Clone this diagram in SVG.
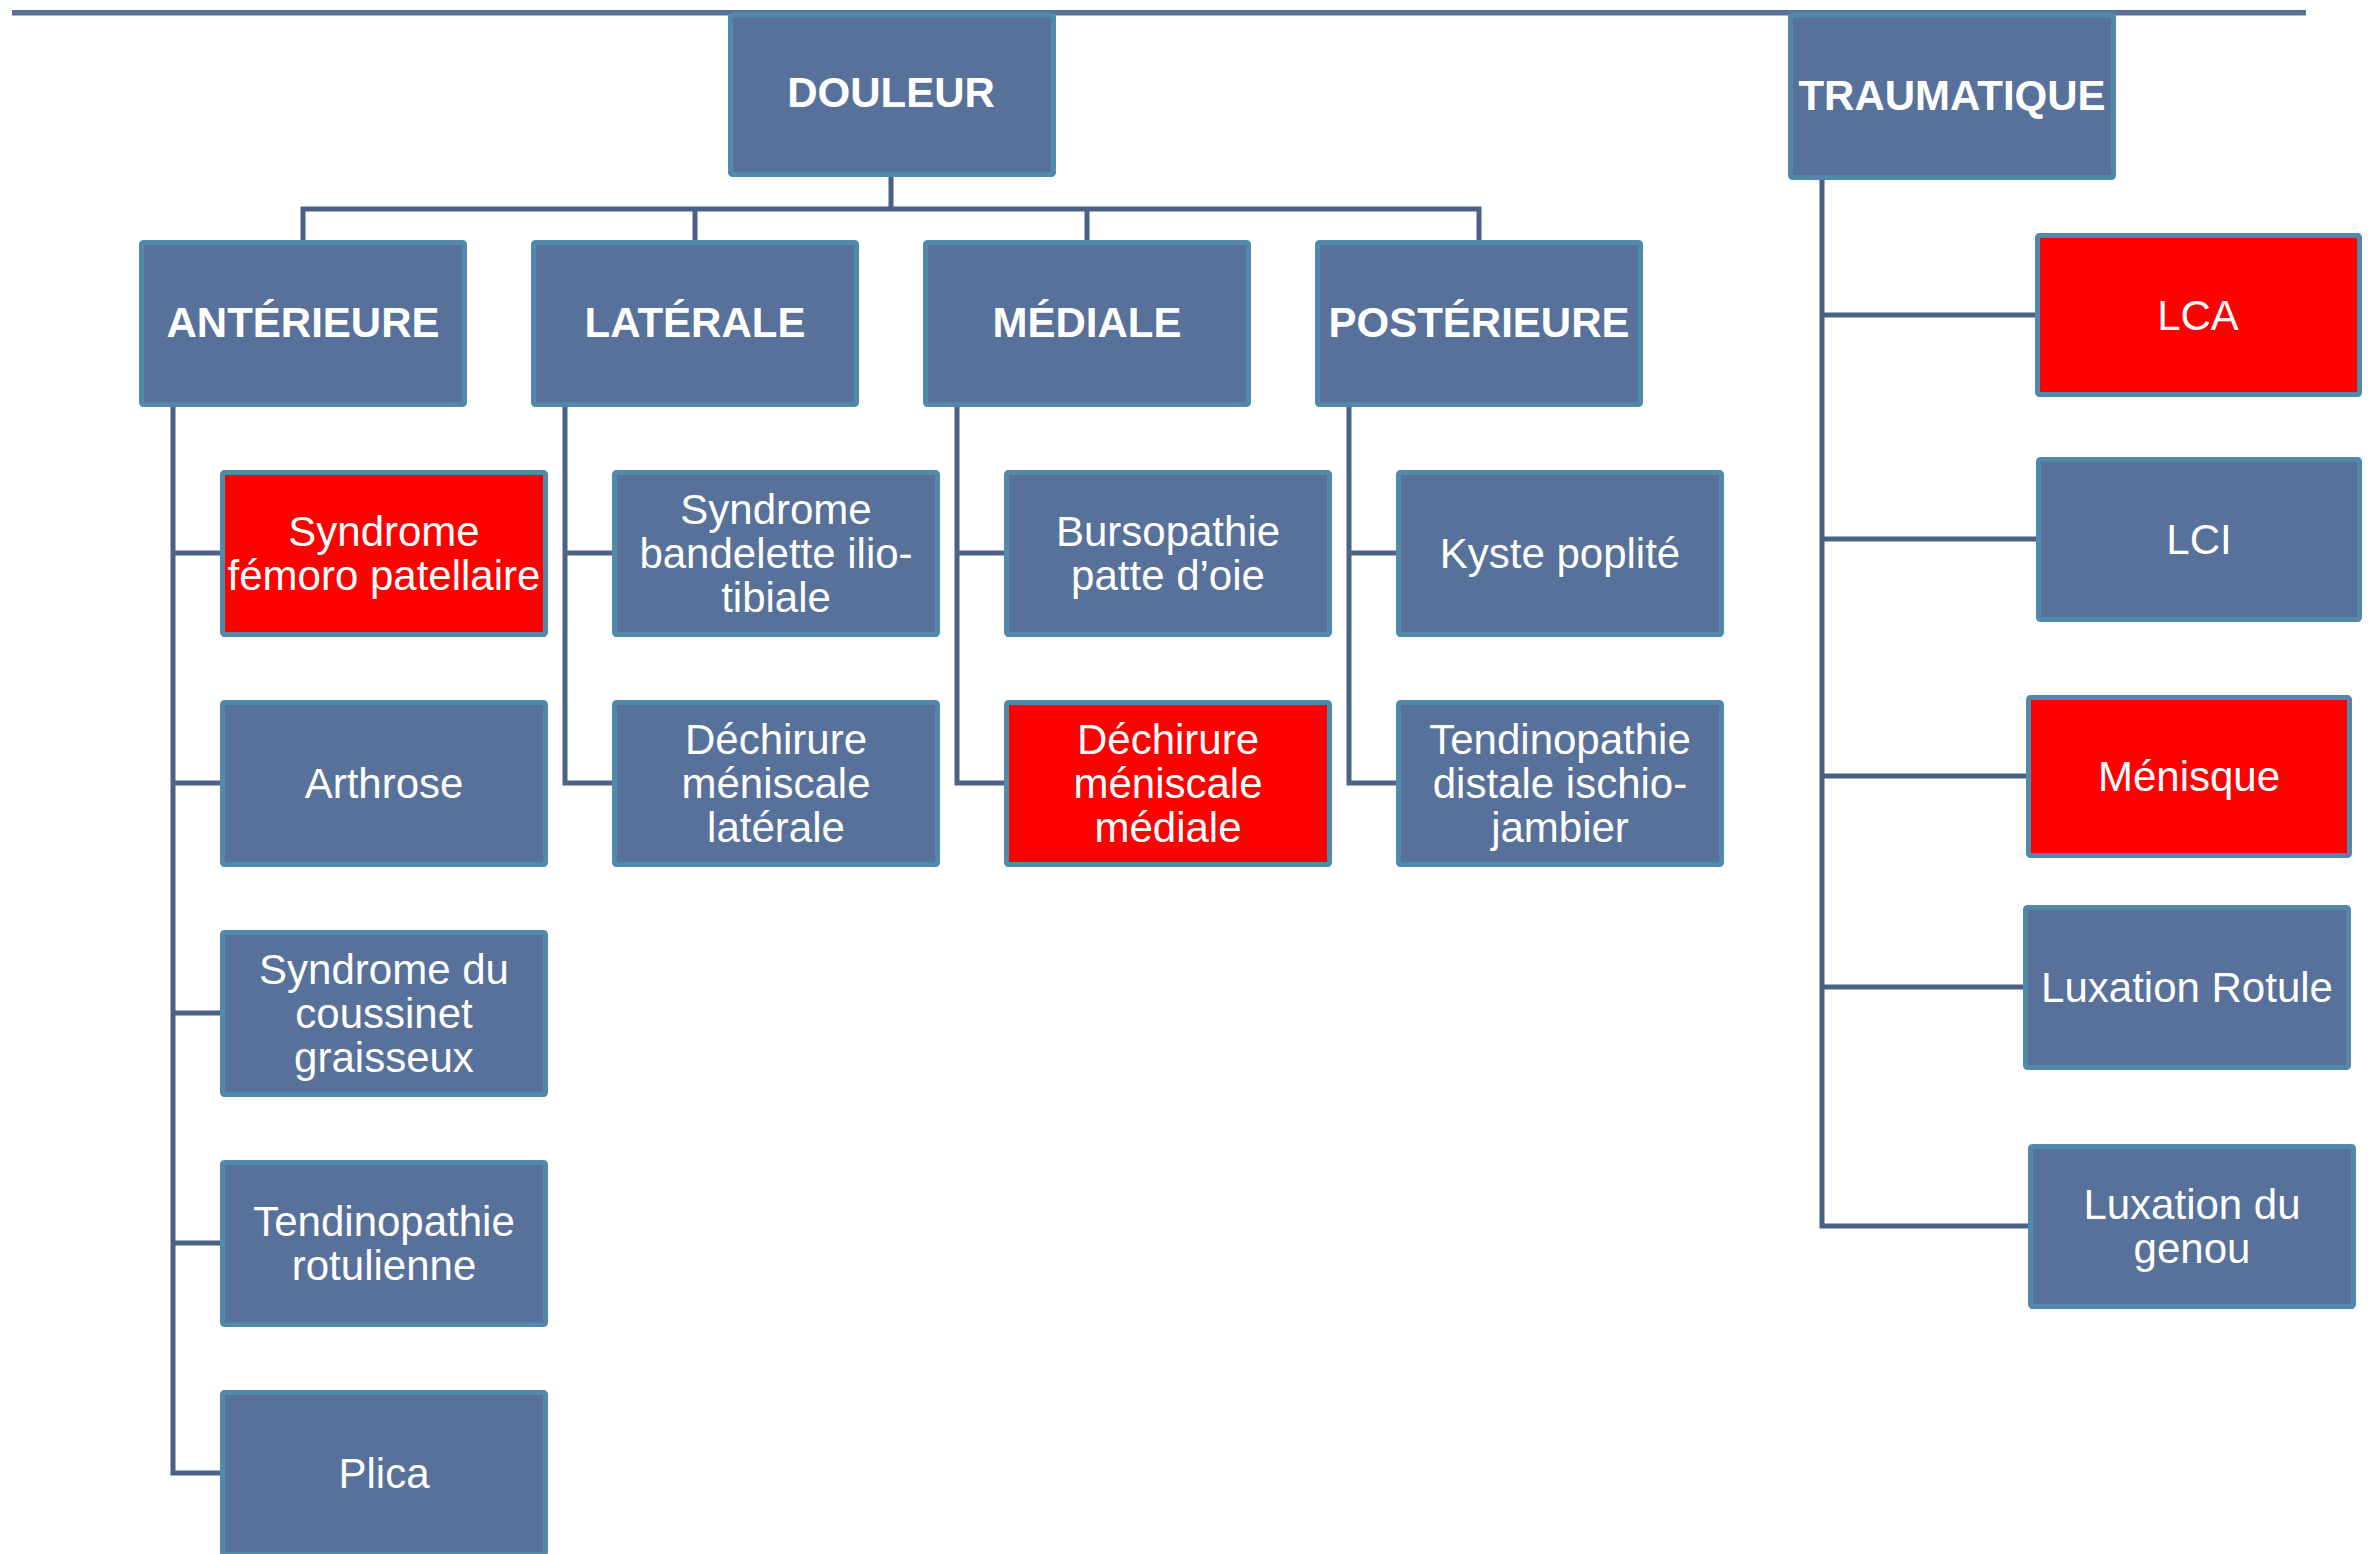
<svg xmlns="http://www.w3.org/2000/svg" width="2374" height="1554" viewBox="0 0 2374 1554">
<style>
.box{fill:#57719a;stroke:#5189ab;stroke-width:5}
.red{fill:#ff0000;stroke:#5189ab;stroke-width:5}
.cn{fill:none;stroke:#4a6087;stroke-width:5}
text{font-family:"Liberation Sans",Arial,sans-serif;font-size:42px;fill:#ffffff;text-anchor:middle}
.b{font-weight:bold}
</style>
<rect width="2374" height="1554" fill="#ffffff"/>
<rect x="12" y="10" width="2294" height="5.5" fill="#57719a"/>
<g id="connectors">
<path class="cn" d="M891 177V209M303 240V209H1479V240M695 209V240M1087 209V240"/>
<path class="cn" d="M173 407V1473H220M173 553H220M173 783H220M173 1013H220M173 1243H220"/>
<path class="cn" d="M565 407V783H612M565 553H612"/>
<path class="cn" d="M957 407V783H1004M957 553H1004"/>
<path class="cn" d="M1349 407V783H1396M1349 553H1396"/>
<path class="cn" d="M1822 180V1226H2028M1822 315H2035M1822 539H2036M1822 776H2026M1822 987H2023"/>
</g>
<g id="douleur"><rect class="box" x="730.5" y="15" width="323" height="159.5" rx="2"/><text class="b" x="891" y="107">DOULEUR</text></g>
<g id="traumatique"><rect class="box" x="1790.5" y="15" width="323" height="162.5" rx="2"/><text class="b" x="1952" y="110">TRAUMATIQUE</text></g>
<g id="anterieure"><rect class="box" x="141.5" y="242.5" width="323" height="162" rx="2"/><text class="b" x="303" y="337">ANTÉRIEURE</text></g>
<g id="laterale"><rect class="box" x="533.5" y="242.5" width="323" height="162" rx="2"/><text class="b" x="695" y="337">LATÉRALE</text></g>
<g id="mediale"><rect class="box" x="925.5" y="242.5" width="323" height="162" rx="2"/><text class="b" x="1087" y="337">MÉDIALE</text></g>
<g id="posterieure"><rect class="box" x="1317.5" y="242.5" width="323" height="162" rx="2"/><text class="b" x="1479" y="337">POSTÉRIEURE</text></g>
<g id="sfp"><rect class="red" x="222.5" y="472.5" width="323" height="162" rx="2"/><text x="384" y="546">Syndrome</text><text x="384" y="590">fémoro patellaire</text></g>
<g id="arthrose"><rect class="box" x="222.5" y="702.5" width="323" height="162" rx="2"/><text x="384" y="798">Arthrose</text></g>
<g id="coussinet"><rect class="box" x="222.5" y="932.5" width="323" height="162" rx="2"/><text x="384" y="984">Syndrome du</text><text x="384" y="1028">coussinet</text><text x="384" y="1072">graisseux</text></g>
<g id="rotulienne"><rect class="box" x="222.5" y="1162.5" width="323" height="162" rx="2"/><text x="384" y="1236">Tendinopathie</text><text x="384" y="1280">rotulienne</text></g>
<g id="plica"><rect class="box" x="222.5" y="1392.5" width="323" height="162" rx="2"/><text x="384" y="1488">Plica</text></g>
<g id="bandelette"><rect class="box" x="614.5" y="472.5" width="323" height="162" rx="2"/><text x="776" y="524">Syndrome</text><text x="776" y="568">bandelette ilio-</text><text x="776" y="612">tibiale</text></g>
<g id="dml"><rect class="box" x="614.5" y="702.5" width="323" height="162" rx="2"/><text x="776" y="754">Déchirure</text><text x="776" y="798">méniscale</text><text x="776" y="842">latérale</text></g>
<g id="bursopathie"><rect class="box" x="1006.5" y="472.5" width="323" height="162" rx="2"/><text x="1168" y="546">Bursopathie</text><text x="1168" y="590">patte d’oie</text></g>
<g id="dmm"><rect class="red" x="1006.5" y="702.5" width="323" height="162" rx="2"/><text x="1168" y="754">Déchirure</text><text x="1168" y="798">méniscale</text><text x="1168" y="842">médiale</text></g>
<g id="kyste"><rect class="box" x="1398.5" y="472.5" width="323" height="162" rx="2"/><text x="1560" y="568">Kyste poplité</text></g>
<g id="ischio"><rect class="box" x="1398.5" y="702.5" width="323" height="162" rx="2"/><text x="1560" y="754">Tendinopathie</text><text x="1560" y="798">distale ischio-</text><text x="1560" y="842">jambier</text></g>
<g id="lca"><rect class="red" x="2037.5" y="235.5" width="322" height="159" rx="2"/><text x="2198" y="330">LCA</text></g>
<g id="lci"><rect class="box" x="2038.5" y="459.5" width="321" height="160" rx="2"/><text x="2199" y="554">LCI</text></g>
<g id="menisque"><rect class="red" x="2028.5" y="697.5" width="321" height="158" rx="2"/><text x="2189" y="791">Ménisque</text></g>
<g id="rotule"><rect class="box" x="2025.5" y="907.5" width="323" height="160" rx="2"/><text x="2187" y="1002">Luxation Rotule</text></g>
<g id="genou"><rect class="box" x="2030.5" y="1146.5" width="323" height="160" rx="2"/><text x="2192" y="1219">Luxation du</text><text x="2192" y="1263">genou</text></g>
</svg>
